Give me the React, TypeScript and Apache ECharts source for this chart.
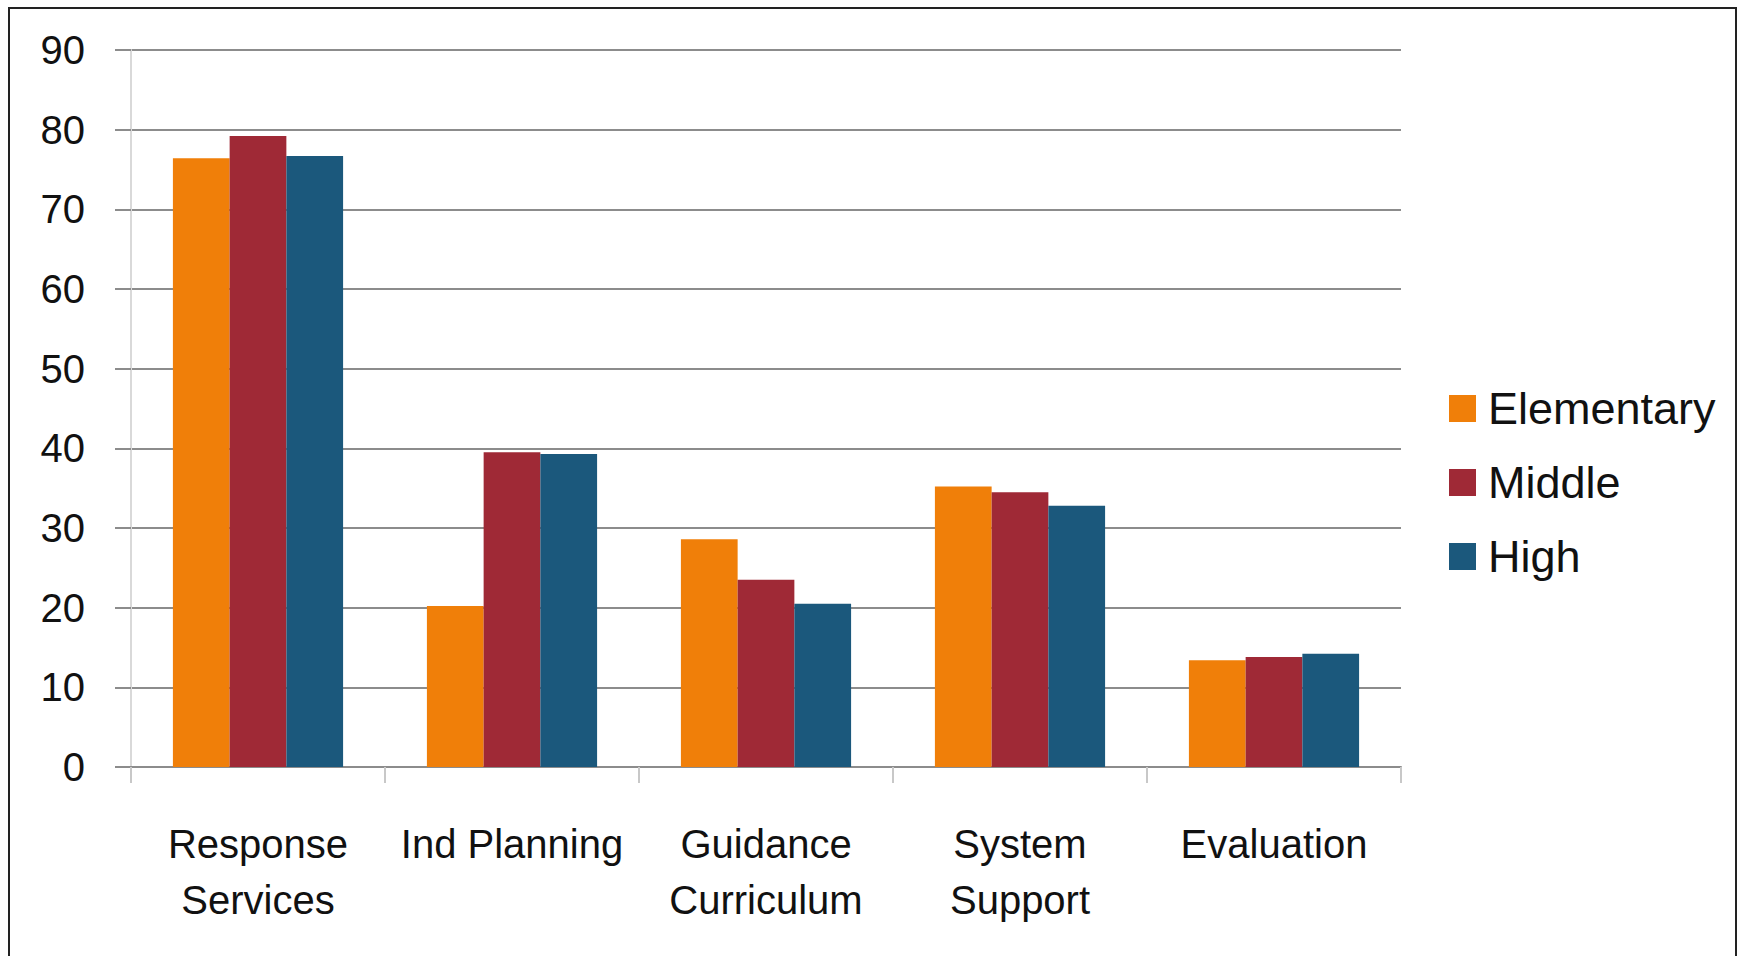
import React, { useEffect, useRef } from "react";
import * as echarts from "echarts";

const categories = [
  "Response\nServices",
  "Ind Planning",
  "Guidance\nCurriculum",
  "System\nSupport",
  "Evaluation",
];
const seriesNames = ["Elementary", "Middle", "High"];
const elementary = [76.4, 20.2, 28.6, 35.2, 13.4];
const middle = [79.2, 39.5, 23.5, 34.5, 13.8];
const high = [76.7, 39.3, 20.5, 32.8, 14.2];
const colors = ["#F07F09", "#9F2936", "#1B587C"];

const FONT = "'Liberation Sans', Arial, sans-serif";

export default function App() {
  const ref = useRef<HTMLDivElement>(null);
  useEffect(() => {
    if (!ref.current) return;
    const chart = echarts.init(ref.current, null, { renderer: "svg" });
    const values = [elementary, middle, high];
    chart.setOption({
      animation: false,
      backgroundColor: "#ffffff",
      textStyle: { fontFamily: FONT },
      grid: { left: 131, right: 340, top: 50, bottom: 189, containLabel: false },
      graphic: [
        {
          type: "rect",
          shape: { x: 9, y: 8, width: 1727, height: 980 },
          style: { fill: "none", stroke: "#222", lineWidth: 2 },
          z: 100,
        },
      ],
      legend: {
        orient: "vertical",
        left: 1449,
        top: 386,
        padding: 0,
        itemWidth: 27,
        itemHeight: 27,
        itemGap: 29,
        icon: "rect",
        textStyle: { fontSize: 45, color: "#111", fontFamily: FONT, lineHeight: 45, padding: [0, 0, 0, 7] },
        data: seriesNames,
      },
      xAxis: {
        type: "category",
        data: categories,
        axisLine: { show: true, lineStyle: { color: "#8c8c8c", width: 2 } },
        axisTick: { show: true, length: 16, lineStyle: { color: "#c8c8c8", width: 2 } },
        axisLabel: {
          interval: 0,
          fontSize: 40,
          color: "#111",
          fontFamily: FONT,
          margin: 49,
          lineHeight: 56,
        },
      },
      yAxis: {
        type: "value",
        min: 0,
        max: 90,
        interval: 10,
        axisLine: { show: true, lineStyle: { color: "#d9d9d9", width: 2 } },
        axisTick: { show: true, length: 16, lineStyle: { color: "#8c8c8c", width: 2 } },
        splitLine: { show: true, lineStyle: { color: "#8c8c8c", width: 2 } },
        axisLabel: { fontSize: 40, color: "#111", fontFamily: FONT, margin: 46 },
      },
      series: seriesNames.map((name, i) => ({
        name,
        type: "bar",
        data: values[i],
        barGap: "0%",
        barCategoryGap: "33%",
        itemStyle: { color: colors[i] },
      })),
    });
    return () => chart.dispose();
  }, []);
  return (
    <div
      ref={ref}
      style={{ position: "fixed", left: 0, top: 0, width: 1741, height: 956 }}
    />
  );
}
